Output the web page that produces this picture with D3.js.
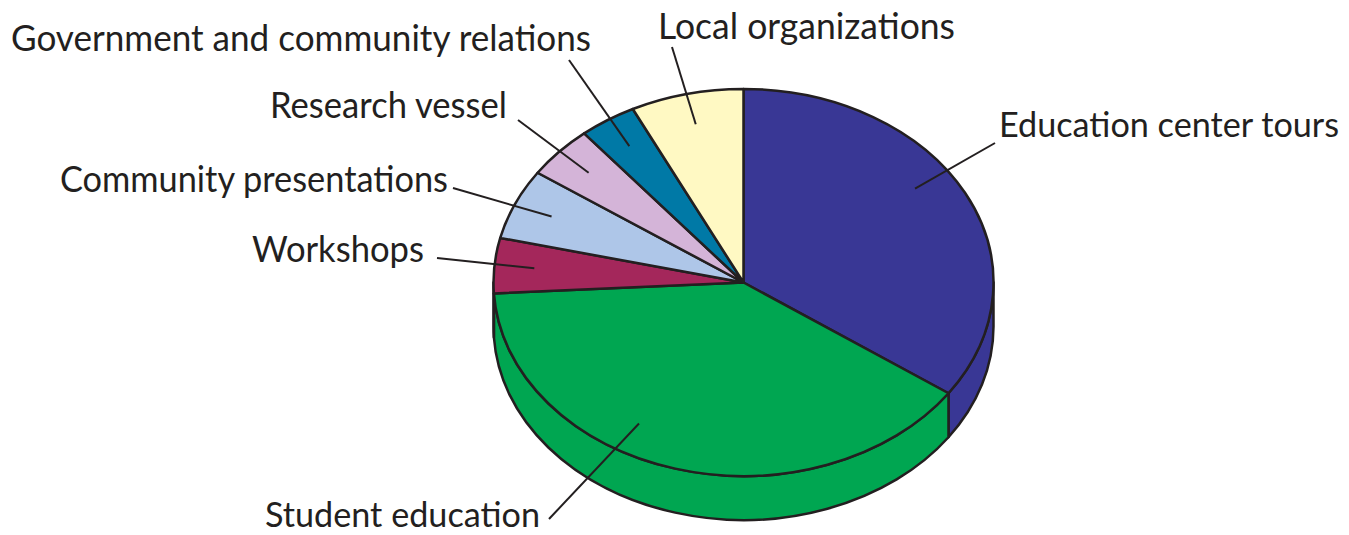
<!DOCTYPE html>
<html>
<head>
<meta charset="utf-8">
<script src="https://cdn.jsdelivr.net/npm/d3@7"></script>
<style>
  body { margin: 0; background: #fff; }
  text { font-family: "Lato", "Open Sans", sans-serif; fill: #231f20; }
</style>
</head>
<body>
<script>
// slices, clockwise from 12 o'clock
var categories = [
  "Education center tours", "Student education", "Workshops",
  "Community presentations", "Research vessel",
  "Government and community relations", "Local organizations"
];
var shares = [34.7, 39.4, 4.6, 5.9, 4.4, 3.7, 7.3];
var colors = ["#393795", "#00a651", "#a4275b", "#aec6e8", "#d4b4d8", "#0079a6", "#fff9c3"];

// label layout : text start x, baseline, width, size, outer end of leader, angle shift
var labelX = [999, 265, 252, 60, 270, 11, 658];
var labelY = [137, 527, 262, 192, 118, 51, 39];
var labelW = [340, 275, 172, 388, 237, 580, 297];
var labelSize = [34, 35, 36, 36, 36, 36, 36];
var leadOut = [[995, 143], [549, 519], [437, 258], [453, 188], [518, 120], [569, 60], [672, 47]];
var leadShift = [-7.7, 14, 0, 0, 0, 0, 0];

var larg = 1349, haut = 535;
var depth = 44;
var ink = "#231f20";

// ellipse of the top face
var xScale = d3.scaleLinear().domain([-1, 1]).range([493.5, 993.5]);
var yScale = d3.scaleLinear().domain([-1, 1]).range([476, 89]);
var rx = (xScale(1) - xScale(-1)) / 2;
var ry = (yScale(-1) - yScale(1)) / 2;

function pt(t, k, dy) {
  return [xScale(k * Math.sin(t)), yScale(k * Math.cos(t)) + (dy || 0)];
}

var pie = d3.pie().sort(null).value(function(d) { return d; });
var arcs = pie(shares);

var svg = d3.select("body")
  .append("svg")
  .attr("width", larg)
  .attr("height", haut);

// side walls (only the front half is seen)
var sides = [];
arcs.forEach(function(a, i) {
  var s = Math.max(a.startAngle, Math.PI / 2);
  var e = Math.min(a.endAngle, Math.PI * 1.5);
  if (e > s) sides.push({ s: s, e: e, i: i });
});

svg.selectAll("path.side")
  .data(sides)
  .enter()
  .append("path")
  .attr("class", "side")
  .attr("d", function(d) {
    var p1 = pt(d.s, 1), p2 = pt(d.e, 1);
    var b1 = pt(d.s, 1, depth), b2 = pt(d.e, 1, depth);
    return "M" + p1 + " A" + rx + "," + ry + " 0 0 1 " + p2 +
      " L" + b2 + " A" + rx + "," + ry + " 0 0 0 " + b1 + " Z";
  })
  .attr("fill", function(d) { return colors[d.i]; })
  .attr("stroke", ink)
  .attr("stroke-width", 2.5)
  .attr("stroke-linejoin", "round");

// top face
var c = pt(0, 0);
svg.selectAll("path.top")
  .data(arcs)
  .enter()
  .append("path")
  .attr("class", "top")
  .attr("d", function(a) {
    var p1 = pt(a.startAngle, 1), p2 = pt(a.endAngle, 1);
    var big = (a.endAngle - a.startAngle) > Math.PI ? 1 : 0;
    return "M" + c + " L" + p1 + " A" + rx + "," + ry + " 0 " + big + " 1 " + p2 + " Z";
  })
  .attr("fill", function(a, i) { return colors[i]; })
  .attr("stroke", ink)
  .attr("stroke-width", 2.5)
  .attr("stroke-linejoin", "round");

// leader lines
svg.selectAll("line.lead")
  .data(arcs)
  .enter()
  .append("line")
  .attr("class", "lead")
  .each(function(a, i) {
    var mid = (a.startAngle + a.endAngle) / 2 + leadShift[i] * Math.PI / 180;
    var p = pt(mid, 0.84);
    d3.select(this)
      .attr("x1", leadOut[i][0]).attr("y1", leadOut[i][1])
      .attr("x2", p[0]).attr("y2", p[1]);
  })
  .attr("stroke", ink)
  .attr("stroke-width", 2);

// labels
svg.selectAll("text.lab")
  .data(categories)
  .enter()
  .append("text")
  .attr("class", "lab")
  .text(function(d) { return d; })
  .attr("x", function(d, i) { return labelX[i]; })
  .attr("y", function(d, i) { return labelY[i]; })
  .attr("textLength", function(d, i) { return labelW[i]; })
  .attr("lengthAdjust", "spacingAndGlyphs")
  .attr("font-size", function(d, i) { return labelSize[i] + "px"; });
</script>
</body>
</html>
